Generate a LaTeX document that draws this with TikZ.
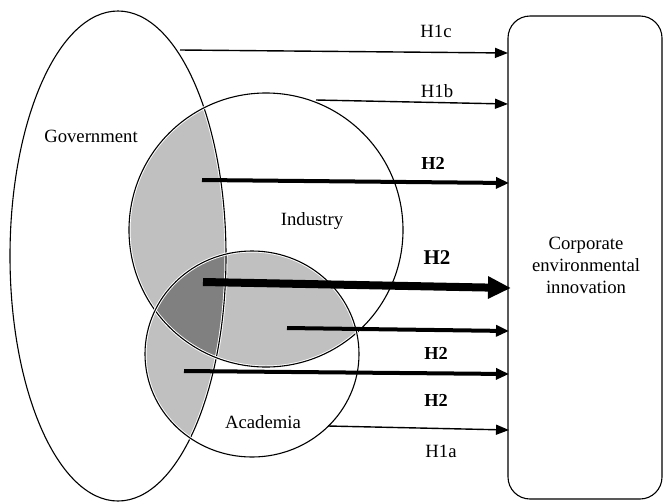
\documentclass[tikz,border=0pt]{standalone}
\usepackage{fontspec}
\setmainfont{Liberation Serif}
\usetikzlibrary{arrows.meta,shapes.geometric}
\definecolor{lightg}{HTML}{C0C0C0}
\definecolor{darkg}{HTML}{808080}
\begin{document}
\begin{tikzpicture}[x=1pt,y=-1pt,
  lbl/.style={font=\fontsize{18.7}{22}\selectfont, inner sep=0},
  hlbl/.style={font=\fontsize{18.3}{22}\selectfont\bfseries, inner sep=0},
  biglbl/.style={font=\fontsize{21}{24}\selectfont\bfseries, inner sep=0},
  outline/.style={draw=black, line width=1.1pt, inner sep=0,
    preaction={draw=white, line width=3pt}},
  thinarr/.style={line width=1.4pt, -{Triangle[length=13pt,width=10pt]}},
  medarr/.style={line width=4pt, -{Triangle[length=13pt,width=11pt]}},
  bigarr/.style={line width=8pt, -{Triangle[length=23pt,width=21pt]}},
]
\useasboundingbox (0,0) rectangle (663,501);
\def\govp{(118,256) ellipse [x radius=108, y radius=245]}
\def\indp{(266,230) circle [radius=137]}
\def\acap{(252,354) ellipse [x radius=107, y radius=103]}

% shaded overlaps
\begin{scope}\clip \govp; \fill[lightg] \indp; \end{scope}
\begin{scope}\clip \govp; \fill[lightg] \acap; \end{scope}
\begin{scope}\clip \indp; \fill[lightg] \acap; \end{scope}
\begin{scope}\clip \govp; \clip \indp; \fill[darkg] \acap; \end{scope}

% sets
\node[ellipse, outline, minimum width=216pt, minimum height=490pt] (gov) at (118,256) {};
\node[circle, outline, minimum size=274pt] (ind) at (266,230) {};
\node[ellipse, outline, minimum width=214pt, minimum height=206pt] (aca) at (252,354) {};

% outcome box
\node[draw, line width=1.1pt, rounded corners=22pt, minimum width=154pt, minimum height=483pt, inner sep=0] (cei) at (585,257.5) {};
\node[lbl, align=center] (ceitext) at (586,265) {Corporate\\environmental\\innovation};

% set labels
\node[lbl] (govlbl) at (91,136) {Government};
\node[lbl] (indlbl) at (312,221) {Industry};
\node[lbl] (acalbl) at (263,422) {Academia};

% arrow endpoints
\coordinate (s1) at (180,50);  \coordinate (e1) at (508,53);
\coordinate (s2) at (316,100); \coordinate (e2) at (508,104);
\coordinate (s3) at (202,180); \coordinate (e3) at (509,183);
\coordinate (s4) at (203,282); \coordinate (e4) at (511,288);
\coordinate (s5) at (287,328); \coordinate (e5) at (509,331);
\coordinate (s6) at (184,371); \coordinate (e6) at (509,374);
\coordinate (s7) at (328,426); \coordinate (e7) at (509,430);

\draw[thinarr] (s1) -- (e1);
\draw[thinarr] (s2) -- (e2);
\draw[medarr] (s3) -- (e3);
\draw[bigarr] (s4) -- (e4);
\draw[medarr] (s5) -- (e5);
\draw[medarr] (s6) -- (e6);
\draw[thinarr] (s7) -- (e7);

% arrow labels
\node[lbl] (l1) at (436,31) {H1c};
\node[lbl] (l2) at (437,91) {H1b};
\node[hlbl] (l3) at (433,163) {H2};
\node[biglbl] (l4) at (437,258) {H2};
\node[hlbl] (l6) at (436,353) {H2};
\node[hlbl] (l7) at (436,400) {H2};
\node[lbl] (l8) at (441,451) {H1a};
\end{tikzpicture}
\end{document}
